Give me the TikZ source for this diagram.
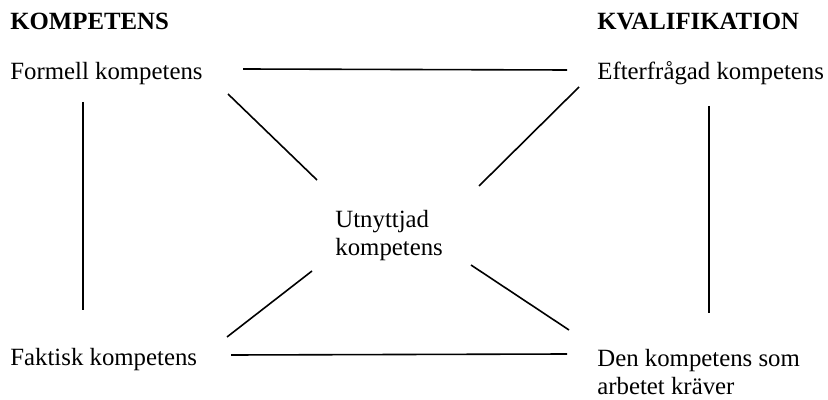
\documentclass[tikz,border=0pt]{standalone}
\usepackage{fontspec}
\setmainfont{Liberation Serif}
\usetikzlibrary{calc}

\begin{document}
\begin{tikzpicture}[x=0.5pt, y=-0.5pt,
    txt/.style={inner sep=0pt, font=\fontsize{12.4}{14}\selectfont},
    head/.style={txt, anchor=base west, font=\fontsize{12.4}{14}\selectfont\bfseries},
    link/.style={line width=0.8pt}]
            \useasboundingbox (0,0) rectangle (828,400);
            \node[head] (komp) at (10,30) {KOMPETENS};
            \node[head] (kval) at (597,30) {KVALIFIKATION};
            \node[txt, anchor=base west] (formell) at (10,80) {Formell kompetens};
            \node[txt, anchor=base west] (efter) at (597,80) {Efterfrågad kompetens};
            \node[txt, anchor=base west] (faktisk) at (10,365) {Faktisk kompetens};
            \node[txt, anchor=north west, align=left] (den) at (597,349) {Den kompetens som\\arbetet kräver};
            \node[txt, anchor=north west, align=left] (utny) at (335,210) {Utnyttjad\\kompetens};
            \draw[link] ($(formell.base west)+(233,-11)$) -- ($(efter.base west)+(-30,-10)$);
            \draw[link] ($(formell.base west)+(218,14)$) -- ($(utny.north west)+(-18,-30)$);
            \draw[link] ($(efter.base west)+(-18,7)$) -- ($(utny.north west)+(144,-24)$);
            \draw[link] ($(formell.base west)+(73,22)$) -- ($(faktisk.base west)+(73,-55)$);
            \draw[link] ($(efter.base west)+(112,26)$) -- ($(den.north west)+(112,-36)$);
            \draw[link] ($(faktisk.base west)+(217,-28)$) -- ($(utny.north west)+(-23,61)$);
            \draw[link] ($(den.north west)+(-28,-19)$) -- ($(utny.north west)+(136,55)$);
            \draw[link] ($(faktisk.base west)+(221,-10)$) -- ($(den.north west)+(-30,5)$);
        \end{tikzpicture}
\end{document}
